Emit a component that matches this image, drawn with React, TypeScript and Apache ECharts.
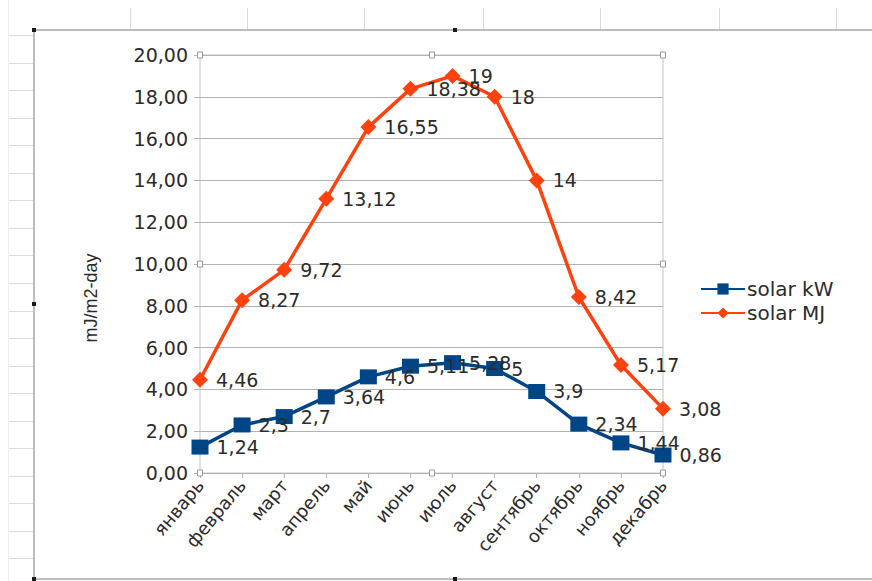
import React, { useEffect, useRef } from "react";
import * as echarts from "echarts";

// Monthly solar figures
const months = [
  "январь", "февраль", "март", "апрель", "май", "июнь",
  "июль", "август", "сентябрь", "октябрь", "ноябрь", "декабрь",
];
const solarKW = [1.24, 2.3, 2.7, 3.64, 4.6, 5.11, 5.28, 5, 3.9, 2.34, 1.44, 0.86];
const solarMJ = [4.46, 8.27, 9.72, 13.12, 16.55, 18.38, 19, 18, 14, 8.42, 5.17, 3.08];
const seriesNames = ["solar kW", "solar MJ"];
const yAxisTitle = "mJ/m2-day";

const W = 872;
const H = 581;
const GRID = { left: 200, right: 209, top: 55, bottom: 108 };
const TEXT = "#2b2b2b";

const commaNum = (v: number) => String(v).replace(".", ",");

function sheetDecor(): any[] {
  const els: any[] = [];
  const faint = { stroke: "#dcdcdc", lineWidth: 1 };
  // spreadsheet row lines left of the chart frame
  for (let y = 35; y < 578; y += 27.55) {
    els.push({ type: "line", shape: { x1: 8, y1: Math.round(y) + 0.5, x2: 33, y2: Math.round(y) + 0.5 }, style: faint, silent: true });
  }
  els.push({ type: "line", shape: { x1: 8.5, y1: 0, x2: 8.5, y2: H }, style: { stroke: "#efefef", lineWidth: 1 }, silent: true });
  // spreadsheet column lines above the frame
  [130, 247, 364, 483, 600, 719, 836].forEach((x) => {
    els.push({ type: "line", shape: { x1: x + 0.5, y1: 8, x2: x + 0.5, y2: 29 }, style: faint, silent: true });
  });
  // chart frame
  els.push({
    type: "polyline",
    shape: { points: [[W, 30], [34, 30], [34, 579], [W, 579]] },
    style: { stroke: "#bdbdbd", lineWidth: 2, fill: "none" },
    silent: true,
  });
  [[34, 30], [455, 30], [34, 304], [34, 579], [455, 579]].forEach(([x, y]) => {
    els.push({ type: "rect", shape: { x: x - 2, y: y - 2, width: 4, height: 4 }, style: { fill: "#1a1a1a" }, z: 120, silent: true });
  });
  // plot-area handles
  const l = GRID.left, r = W - GRID.right, t = GRID.top, b = H - GRID.bottom;
  const mx = Math.round((l + r) / 2), my = Math.round((t + b) / 2);
  [[l, t], [mx, t], [r, t], [l, my], [r, my], [l, b], [mx, b], [r, b]].forEach(([x, y]) => {
    els.push({
      type: "rect",
      shape: { x: x - 2.5, y: y - 3, width: 5, height: 6 },
      style: { fill: "#ffffff", stroke: "#9a9a9a", lineWidth: 1 },
      z: 120,
      silent: true,
    });
  });
  // y axis title
  els.push({
    type: "text",
    x: 91,
    y: 298,
    rotation: Math.PI / 2,
    style: {
      text: yAxisTitle,
      fill: TEXT,
      font: '18px "Liberation Sans", sans-serif',
      align: "center",
      verticalAlign: "middle",
    },
    silent: true,
  });
  return els;
}

export default function App() {
  const ref = useRef<HTMLDivElement>(null);

  useEffect(() => {
    if (!ref.current) return;
    const chart = echarts.init(ref.current, null, { renderer: "svg" });
    const labelStyle = {
      show: true,
      position: "right" as const,
      distance: 8,
      color: TEXT,
      fontSize: 19,
      fontFamily: "DejaVu Sans",
      formatter: (p: any) => commaNum(p.value),
    };
    chart.setOption({
      animation: false,
      backgroundColor: "#ffffff",
      grid: {
        left: GRID.left,
        right: GRID.right,
        top: GRID.top,
        bottom: GRID.bottom,
        show: true,
        borderColor: "#c4c4c4",
        borderWidth: 1,
      },
      legend: {
        orient: "vertical",
        left: 695,
        top: 274,
        itemWidth: 44,
        itemHeight: 14,
        itemGap: 4,
        data: seriesNames,
        textStyle: { color: TEXT, fontSize: 20, fontFamily: "DejaVu Sans", padding: [0, 0, 0, -3] },
      },
      xAxis: {
        type: "category",
        data: months,
        boundaryGap: false,
        axisLine: { show: true, lineStyle: { color: "#b3b3b3" } },
        axisTick: { show: true, interval: 0, length: 5, lineStyle: { color: "#b3b3b3" } },
        axisLabel: {
          interval: 0,
          rotate: 50,
          margin: 9,
          color: TEXT,
          fontSize: 18,
          fontFamily: "DejaVu Sans",
        },
      },
      yAxis: {
        type: "value",
        min: 0,
        max: 20,
        interval: 2,
        axisLine: { show: false },
        axisTick: { show: true, length: 6, lineStyle: { color: "#b3b3b3" } },
        axisLabel: {
          margin: 12,
          color: TEXT,
          fontSize: 19,
          fontFamily: "DejaVu Sans",
          formatter: (v: number) => v.toFixed(2).replace(".", ","),
        },
        splitLine: { lineStyle: { color: "#b3b3b3", width: 1 } },
      },
      series: [
        {
          name: seriesNames[0],
          type: "line",
          data: solarKW,
          symbol: "rect",
          symbolSize: [17, 15],
          color: "#004586",
          lineStyle: { width: 3.5, color: "#004586" },
          itemStyle: { color: "#004586" },
          label: labelStyle,
          z: 3,
        },
        {
          name: seriesNames[1],
          type: "line",
          data: solarMJ,
          symbol: "diamond",
          symbolSize: 16,
          color: "#ff420e",
          lineStyle: { width: 3.5, color: "#ff420e" },
          itemStyle: { color: "#ff420e" },
          label: labelStyle,
          z: 4,
        },
      ],
      graphic: sheetDecor(),
    });
    return () => chart.dispose();
  }, []);

  return (
    <div
      ref={ref}
      style={{ position: "absolute", left: 0, top: 0, width: W, height: H, background: "#ffffff" }}
    />
  );
}
